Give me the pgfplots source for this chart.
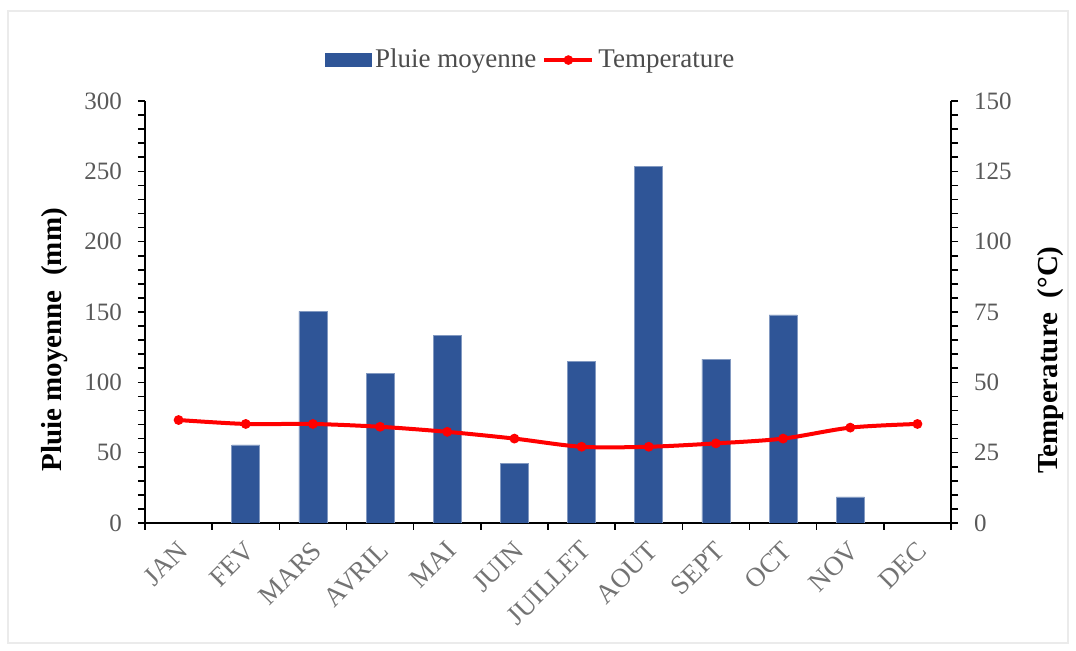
\documentclass[border=0pt]{standalone}
\usepackage{fontspec}
\setmainfont{Liberation Serif}
\usepackage{pgfplots}
\pgfplotsset{compat=1.18}
\definecolor{rainblue}{HTML}{2F5597}
\definecolor{tickgray}{HTML}{595959}

\pgfplotsset{
  climate/.style={
    at={(0,0)}, anchor=south west,
    scale only axis, width=403pt, height=211pt,
    xmin=-0.5, xmax=11.5, ymin=0,
    tick align=outside,
    major tick length=3.5pt, minor tick length=3.5pt,
    minor y tick num=4,
    axis line style={line width=0.8pt, black},
    every tick/.style={line width=0.8pt, black},
    /pgf/number format/assume math mode=true,
    ticklabel style={font=\fontsize{12.5}{14}\selectfont, text=tickgray},
  },
}

\begin{document}
\begin{tikzpicture}[x=1pt,y=1pt]
% canvas: the plot area's lower-left corner sits at the origin
\useasboundingbox (-72.5,-64) rectangle (465.5,261.5);
\draw[black!8, line width=0.6pt] (-68.5,-60) rectangle (461.5,256);

% monthly rainfall, left axis
\begin{axis}[climate,
  ymax=300, ytick={0,50,...,300},
  axis y line*=left, axis x line*=bottom,
  yticklabel style={xshift=-4.5pt},
  xtick={-0.5,0.5,1.5,2.5,3.5,4.5,5.5,6.5,7.5,8.5,9.5,10.5,11.5},
  x tick label as interval,
  xticklabels={JAN,FEV,MARS,AVRIL,MAI,JUIN,JUILLET,AOUT,SEPT,OCT,NOV,DEC},
  xticklabel style={rotate=45, anchor=north east, inner sep=1pt, yshift=-1.5pt, xshift=-3pt,
    font=\fontsize{13.5}{15}\selectfont, text=black!55},
  every axis y label/.style={at={(axis description cs:-0.1117,0.434)}, rotate=90, anchor=center},
  ylabel={\fontsize{14.5}{16}\selectfont\bfseries Pluie moyenne\ \ (mm)},
  legend style={at={(axis description cs:0.4795,1.097)}, anchor=center, draw=none, fill=none,
    legend columns=2, font=\fontsize{13.5}{15}\selectfont, text=black!70,
    /tikz/every even column/.append style={column sep=1pt},
    inner sep=0pt, cells={anchor=west}},
]
\addplot[ybar, bar width=14pt, fill=rainblue, draw=rainblue!60!white, line width=0.3pt,
  legend image code/.code={\fill[rainblue] (0pt,-3.2pt) rectangle (23pt,3.2pt);}]
  coordinates {(1,55.5) (2,150.5) (3,106.5) (4,133.5) (5,42.5) (6,115)
               (7,253.5) (8,116.5) (9,148) (10,18.5)};
\addlegendentry{Pluie moyenne}
\addlegendimage{legend image code/.code={\draw[red, line width=2pt] (0pt,0pt) -- (24pt,0pt);
  \fill[red] (12pt,0pt) circle (2.2pt);}}
\addlegendentry{Temperature}
\end{axis}

% monthly temperature, right axis
\begin{axis}[climate,
  ymax=150, ytick={0,25,...,150},
  axis y line*=right, axis x line=none,
  yticklabel style={xshift=4.5pt},
  every axis y label/.style={at={(axis description cs:1.123,0.386)}, rotate=90, anchor=center},
  ylabel={\fontsize{14.5}{16}\selectfont\bfseries Temperature\ \ (°C)},
]
\addplot[red, line width=2pt, smooth, tension=0.5, mark=*, mark size=2.2pt,
  mark options={fill=red, draw=red, line width=0.5pt}]
  coordinates {(0,36.6) (1,35.2) (2,35.2) (3,34.2) (4,32.4) (5,30.0)
               (6,27.1) (7,27.1) (8,28.3) (9,30.0) (10,33.9) (11,35.2)};
\end{axis}
\end{tikzpicture}
\end{document}
